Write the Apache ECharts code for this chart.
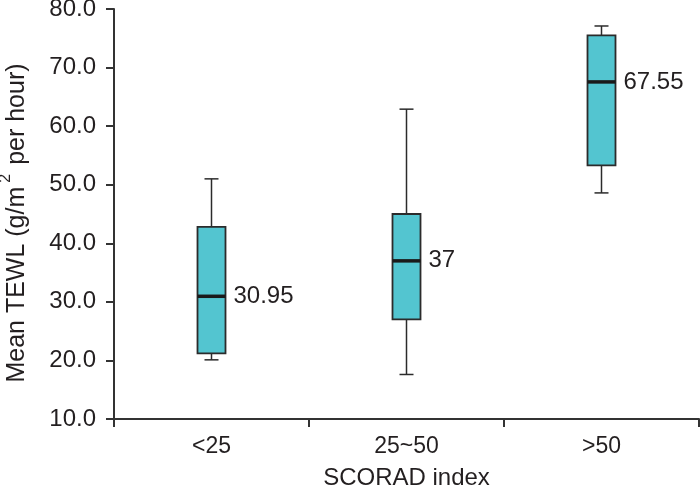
<!DOCTYPE html>
<html>
<head>
<meta charset="utf-8">
<script src="https://cdn.jsdelivr.net/npm/echarts@6/dist/echarts.min.js"></script>
<style>html,body{margin:0;padding:0;background:#fff;}#c{width:700px;height:495px;}</style>
</head>
<body>
<div id="c"></div>
<script>
const categories = ['<25', '25~50', '>50'];
const minVals = [20.1, 17.6, 48.6];
const q1Vals = [21.2, 27.0, 53.3];
const medians = [30.95, 37, 67.55];
const q3Vals = [42.8, 45.0, 75.5];
const maxVals = [51.0, 62.9, 77.1];
const medianLabels = ['30.95', '37', '67.55'];
const yTicks = [10, 20, 30, 40, 50, 60, 70, 80];

const data = categories.map((c, i) => [i, minVals[i], q1Vals[i], medians[i], q3Vals[i], maxVals[i]]);

const FONT = 'Liberation Sans, Arial, sans-serif';
const INK = '#231f20';

const chart = echarts.init(document.getElementById('c'));
chart.setOption({
  animation: false,
  grid: { left: 114, right: 1, top: 9, bottom: 76, containLabel: false, outerBoundsMode: 'none' },
  xAxis: {
    type: 'category',
    data: categories,
    boundaryGap: true,
    name: 'SCORAD index',
    nameLocation: 'middle',
    nameGap: 47,
    nameTextStyle: { fontSize: 24, color: INK, fontFamily: FONT },
    axisLine: { lineStyle: { color: '#333', width: 2 } },
    axisTick: { show: true, length: 8, lineStyle: { color: '#333', width: 2 } },
    axisLabel: { fontSize: 23, color: INK, fontFamily: FONT, margin: 16 },
    splitLine: { show: false }
  },
  yAxis: {
    type: 'value',
    min: yTicks[0],
    max: yTicks[yTicks.length - 1],
    interval: 10,
    name: 'Mean TEWL (g/m{sup|2} per hour)',
    nameLocation: 'middle',
    nameGap: 78,
    nameTextStyle: {
      fontSize: 25, color: INK, fontFamily: FONT,
      padding: [0, 18, 0, 0],
      rich: { sup: { fontSize: 16, color: INK, fontFamily: FONT, padding: [0, 2, 22, 4] } }
    },
    axisLine: { show: true, lineStyle: { color: '#333', width: 2 } },
    axisTick: { show: true, length: 8, lineStyle: { color: '#333', width: 2 } },
    axisLabel: { fontSize: 24, color: INK, fontFamily: FONT, margin: 18, formatter: v => v.toFixed(1) },
    splitLine: { show: false }
  },
  series: [{
    type: 'custom',
    data: data,
    encode: { x: 0, y: [1, 2, 3, 4, 5] },
    renderItem: function (params, api) {
      const xi = api.value(0);
      const pMin = api.coord([xi, api.value(1)]);
      const pQ1 = api.coord([xi, api.value(2)]);
      const pMed = api.coord([xi, api.value(3)]);
      const pQ3 = api.coord([xi, api.value(4)]);
      const pMax = api.coord([xi, api.value(5)]);
      const cx = pMed[0];
      const hw = 14, cw = 7;
      const lineStyle = { stroke: '#2b2b2b', lineWidth: 1.5 };
      return {
        type: 'group',
        children: [
          { type: 'line', shape: { x1: cx, y1: pQ3[1], x2: cx, y2: pMax[1] }, style: lineStyle },
          { type: 'line', shape: { x1: cx - cw, y1: pMax[1], x2: cx + cw, y2: pMax[1] }, style: lineStyle },
          { type: 'line', shape: { x1: cx, y1: pQ1[1], x2: cx, y2: pMin[1] }, style: lineStyle },
          { type: 'line', shape: { x1: cx - cw, y1: pMin[1], x2: cx + cw, y2: pMin[1] }, style: lineStyle },
          { type: 'rect', shape: { x: cx - hw, y: pQ3[1], width: hw * 2, height: pQ1[1] - pQ3[1] },
            style: { fill: '#53c5d0', stroke: '#2b2b2b', lineWidth: 1.8 } },
          { type: 'line', shape: { x1: cx - hw, y1: pMed[1], x2: cx + hw, y2: pMed[1] },
            style: { stroke: '#1a1a1a', lineWidth: 3.5 } },
          { type: 'text', x: cx + hw + 8, y: pMed[1],
            style: { text: medianLabels[params.dataIndex], fill: INK, fontSize: 24, fontFamily: FONT,
                     textAlign: 'left', textVerticalAlign: 'middle' } }
        ]
      };
    }
  }]
});
</script>
</body>
</html>
